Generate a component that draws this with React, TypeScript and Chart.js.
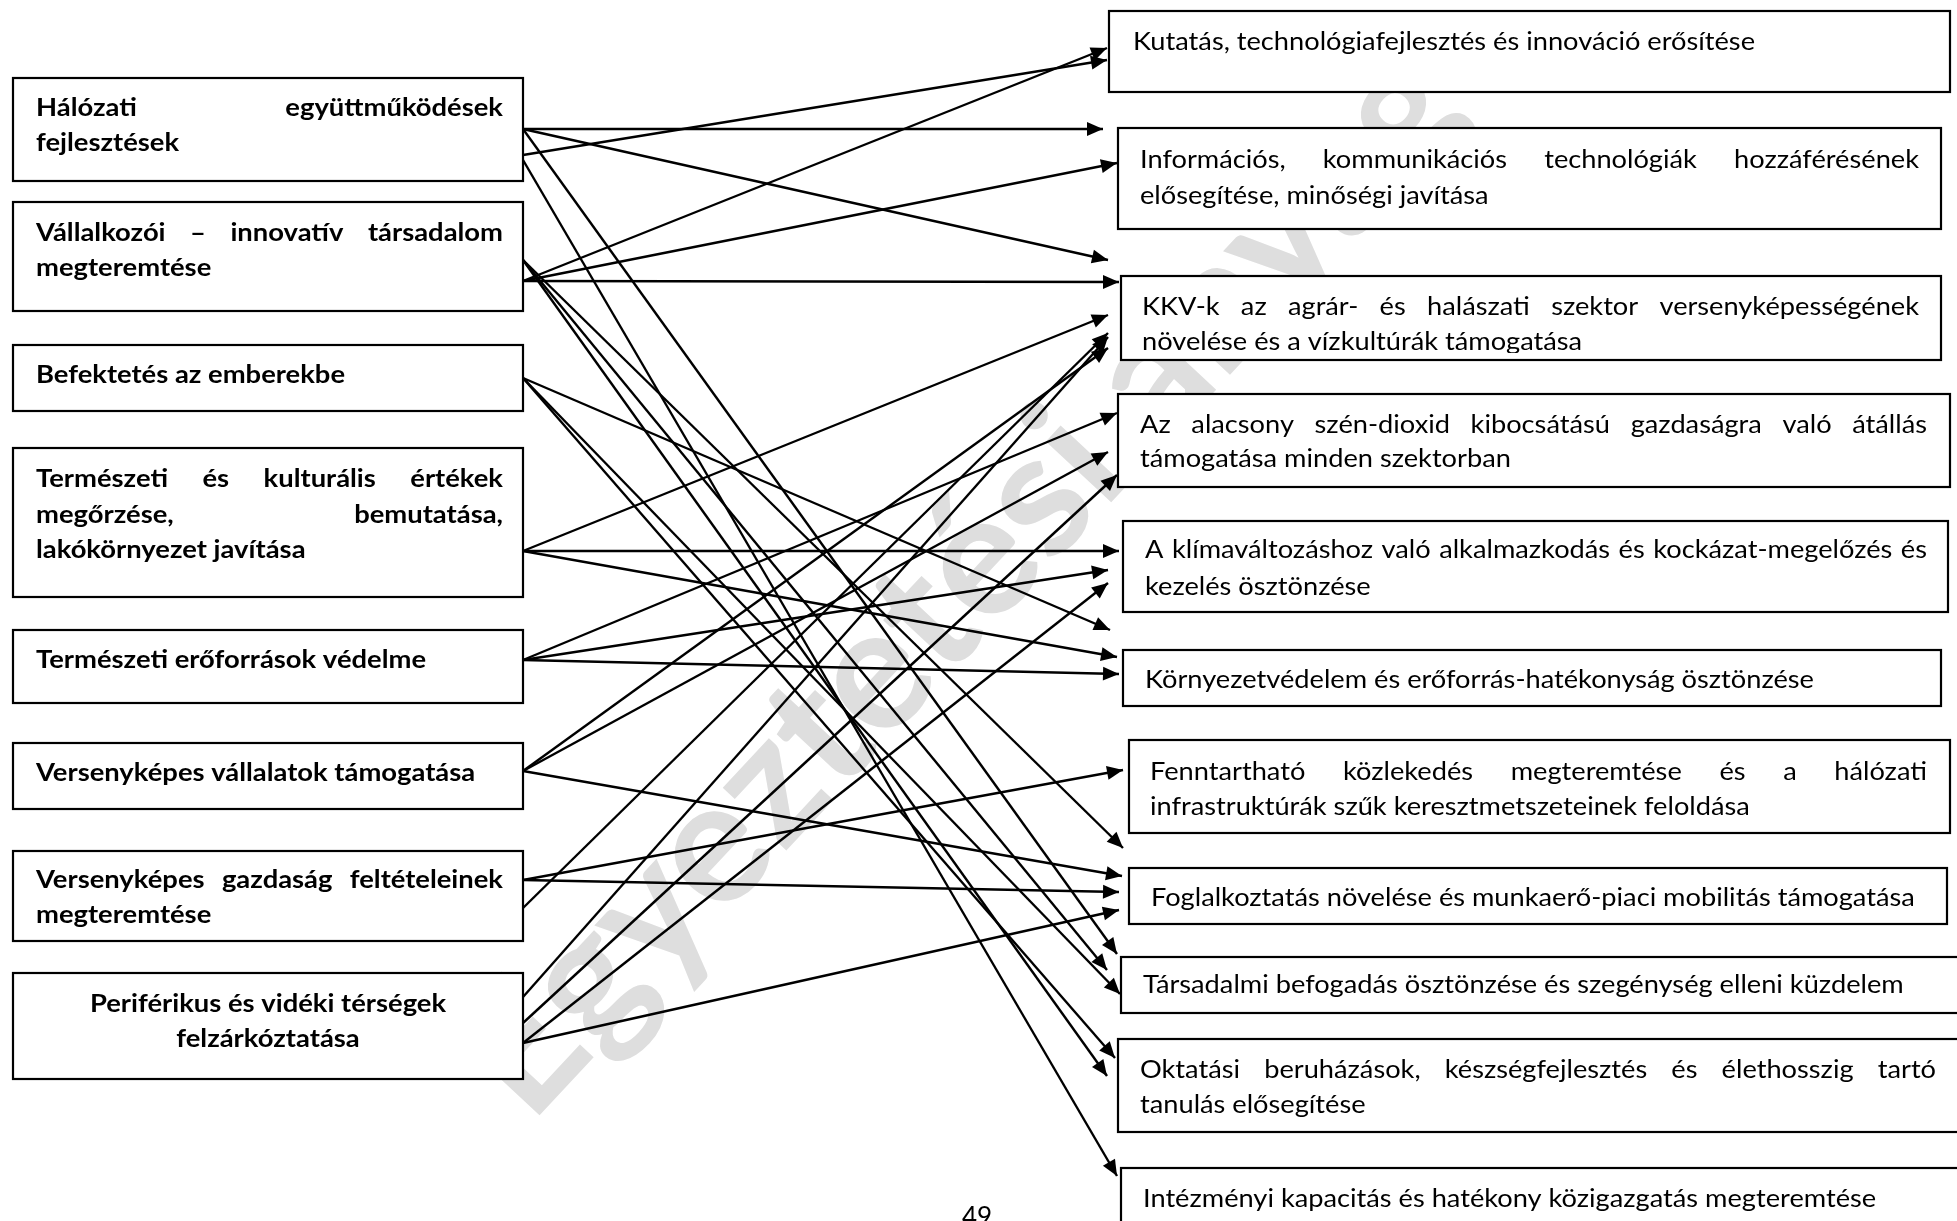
import React, { useEffect, useRef } from "react";
import { Chart, registerables } from "chart.js";

Chart.register(...registerables);

// ---------- text content ----------
const LEFT_LINES: string[][] = [
  ["Hálózati együttműködések", "fejlesztések"],
  ["Vállalkozói – innovatív társadalom", "megteremtése"],
  ["Befektetés az emberekbe"],
  ["Természeti és kulturális értékek", "megőrzése, bemutatása,", "lakókörnyezet javítása"],
  ["Természeti erőforrások védelme"],
  ["Versenyképes vállalatok támogatása"],
  ["Versenyképes gazdaság feltételeinek", "megteremtése"],
  ["Periférikus és vidéki térségek", "felzárkóztatása"],
];

const RIGHT_LINES: string[][] = [
  ["Kutatás, technológiafejlesztés és innováció erősítése"],
  ["Információs, kommunikációs technológiák hozzáférésének", "elősegítése, minőségi javítása"],
  ["KKV-k az agrár- és halászati szektor versenyképességének", "növelése és a vízkultúrák támogatása"],
  ["Az alacsony szén-dioxid kibocsátású gazdaságra való átállás", "támogatása minden szektorban"],
  ["A klímaváltozáshoz való alkalmazkodás és kockázat-megelőzés és", "kezelés ösztönzése"],
  ["Környezetvédelem és erőforrás-hatékonyság ösztönzése"],
  ["Fenntartható közlekedés megteremtése és a hálózati", "infrastruktúrák szűk keresztmetszeteinek feloldása"],
  ["Foglalkoztatás növelése és munkaerő-piaci mobilitás támogatása"],
  ["Társadalmi befogadás ösztönzése és szegénység elleni küzdelem"],
  ["Oktatási beruházások, készségfejlesztés és élethosszig tartó", "tanulás elősegítése"],
  ["Intézményi kapacitás és hatékony közigazgatás megteremtése"],
];

const WATERMARK = "Egyeztetési anyag";
const PAGE_NUMBER = "49";

// ---------- links: [left priority index, right objective index] ----------
const LINKS: [number, number][] = [
  [0, 1], [0, 2], [0, 8], [0, 0], [0, 10],
  [1, 0], [1, 1], [1, 2], [1, 7], [1, 8], [1, 9],
  [2, 5], [2, 8], [2, 9],
  [3, 2], [3, 4], [3, 5],
  [4, 3], [4, 4], [4, 5],
  [5, 3], [5, 2], [5, 7],
  [6, 6], [6, 7], [6, 2],
  [7, 2], [7, 3], [7, 4], [7, 7],
];

// ---------- layout (page pixel space) ----------
const LEFT_BOX_TOP = [78, 202, 345, 448, 630, 743, 851, 973];
const LEFT_BOX_BOTTOM = [181, 311, 411, 597, 703, 809, 941, 1079];
const LEFT_BOX_X = [13, 523];
const LEFT_TEXT_X = [36, 503];
const LEFT_BASELINES = [
  [116, 151], [241, 276], [383], [487, 523, 558], [668], [781], [888, 923], [1012, 1047],
];
const LEFT_JUSTIFY = [[true, false], [true, false], [false], [true, true, false], [false], [false], [true, false], [false, false]];
const LEFT_CENTER = [false, false, false, false, false, false, false, true];

const RIGHT_BOX_LEFT = [1109, 1118, 1121, 1118, 1123, 1123, 1129, 1129, 1121, 1118, 1121];
const RIGHT_BOX_RIGHT = [1950, 1941, 1941, 1950, 1948, 1941, 1950, 1947, 1962, 1962, 1962];
const RIGHT_BOX_TOP = [11, 128, 276, 394, 521, 650, 740, 868, 957, 1039, 1168];
const RIGHT_BOX_BOTTOM = [92, 229, 360, 487, 612, 706, 833, 924, 1013, 1132, 1240];
const RIGHT_TEXT_X = [1133, 1140, 1142, 1140, 1145, 1145, 1150, 1151, 1143, 1140, 1143];
const RIGHT_TEXT_RIGHT = [0, 1919, 1919, 1927, 1927, 0, 1927, 0, 0, 1936, 0];
const RIGHT_BASELINES = [
  [50], [168, 204], [315, 350], [433, 467], [558, 595], [688], [780, 815], [906], [993], [1078, 1113], [1207],
];

const LINK_SRC_Y = [
  129, 129, 129, 155, 160,
  281, 281, 281, 260, 260, 260,
  378, 378, 378,
  551, 551, 551,
  660, 660, 660,
  771, 771, 771,
  880, 880, 908,
  997, 1023, 1043, 1043,
];
const LINK_TIP_X = [
  1103, 1108, 1117, 1107, 1117,
  1107, 1117, 1119, 1123, 1107, 1107,
  1110, 1120, 1115,
  1108, 1119, 1117,
  1117, 1108, 1119,
  1108, 1108, 1122,
  1123, 1119, 1108,
  1108, 1117, 1108, 1119,
];
const LINK_TIP_Y = [
  129, 260, 954, 60, 1176,
  48, 163, 282, 848, 970, 1076,
  630, 994, 1058,
  315, 551, 657,
  413, 570, 674,
  452, 348, 876,
  770, 892, 333,
  337, 475, 583, 910,
];

const W = 1957;
const H = 1221;
const FONT = "Lato, 'Open Sans', 'Noto Sans', sans-serif";

function drawLine(ctx: CanvasRenderingContext2D, text: string, x: number, y: number, sx: number, justify: number, align: CanvasTextAlign) {
  ctx.save();
  ctx.translate(x, y);
  ctx.scale(sx, 1);
  if (justify > 0) {
    const words = text.split(" ");
    const ws = words.map((w) => ctx.measureText(w).width);
    const total = ws.reduce((a, b) => a + b, 0);
    const avail = justify / sx;
    const gap = words.length > 1 ? (avail - total) / (words.length - 1) : 0;
    let cx = 0;
    ctx.textAlign = "left";
    words.forEach((w, i) => {
      ctx.fillText(w, cx, 0);
      cx += ws[i] + gap;
    });
  } else {
    ctx.textAlign = align;
    ctx.fillText(text, 0, 0);
  }
  ctx.restore();
}

const diagramPlugin = {
  id: "diagram",
  beforeDatasetsDraw(chart: any) {
    const ctx: CanvasRenderingContext2D = chart.ctx;
    const xs = chart.scales.x;
    const ys = chart.scales.y;
    const X = (v: number) => xs.getPixelForValue(v);
    const Y = (v: number) => ys.getPixelForValue(v);

    ctx.save();
    ctx.fillStyle = "#ffffff";
    ctx.fillRect(0, 0, chart.width, chart.height);

    // watermark
    ctx.save();
    ctx.translate(X(960), Y(582));
    ctx.rotate((-47 * Math.PI) / 180);
    ctx.font = `bold 174px ${FONT}`;
    ctx.fillStyle = "#dedede";
    ctx.textAlign = "center";
    ctx.textBaseline = "middle";
    ctx.fillText(WATERMARK, 0, 0);
    ctx.restore();

    ctx.textBaseline = "alphabetic";
    ctx.fillStyle = "#000";

    // calibrate widths to reference
    ctx.font = `bold 24px ${FONT}`;
    let sxL = 309 / ctx.measureText("Befektetés az emberekbe").width;
    sxL = Math.max(0.8, Math.min(1.2, sxL));
    ctx.font = `25px ${FONT}`;
    let sxR = 622 / ctx.measureText("Kutatás, technológiafejlesztés és innováció erősítése").width;
    sxR = Math.max(0.8, Math.min(1.2, sxR));

    // left boxes
    LEFT_LINES.forEach((lines, i) => {
      const x0 = X(LEFT_BOX_X[0]);
      const x1 = X(LEFT_BOX_X[1]);
      const y0 = Y(LEFT_BOX_TOP[i]);
      const y1 = Y(LEFT_BOX_BOTTOM[i]);
      ctx.fillStyle = "#fff";
      ctx.fillRect(x0, y0, x1 - x0, y1 - y0);
      ctx.strokeStyle = "#000";
      ctx.lineWidth = 2.2;
      ctx.strokeRect(x0, y0, x1 - x0, y1 - y0);
      ctx.fillStyle = "#000";
      ctx.font = `bold 24px ${FONT}`;
      const tx0 = X(LEFT_TEXT_X[0]);
      const tx1 = X(LEFT_TEXT_X[1]);
      lines.forEach((ln, j) => {
        const by = Y(LEFT_BASELINES[i][j]);
        if (LEFT_CENTER[i]) {
          drawLine(ctx, ln, (x0 + x1) / 2, by, sxL, 0, "center");
        } else {
          drawLine(ctx, ln, tx0, by, sxL, LEFT_JUSTIFY[i][j] ? tx1 - tx0 : 0, "left");
        }
      });
    });

    // right boxes
    RIGHT_LINES.forEach((lines, i) => {
      const x0 = X(RIGHT_BOX_LEFT[i]);
      const x1 = X(RIGHT_BOX_RIGHT[i]);
      const y0 = Y(RIGHT_BOX_TOP[i]);
      const y1 = Y(RIGHT_BOX_BOTTOM[i]);
      ctx.fillStyle = "#fff";
      ctx.fillRect(x0, y0, x1 - x0, y1 - y0);
      ctx.strokeStyle = "#000";
      ctx.lineWidth = 2.2;
      ctx.strokeRect(x0, y0, x1 - x0, y1 - y0);
      ctx.save();
      ctx.beginPath();
      ctx.rect(x0 + 2, y0 + 2, x1 - x0 - 4, y1 - y0 - 9);
      ctx.clip();
      ctx.fillStyle = "#000";
      ctx.font = `25px ${FONT}`;
      const tx0 = X(RIGHT_TEXT_X[i]);
      lines.forEach((ln, j) => {
        const by = Y(RIGHT_BASELINES[i][j]);
        const just = j === 0 && RIGHT_TEXT_RIGHT[i] > 0 && lines.length > 1 ? X(RIGHT_TEXT_RIGHT[i]) - tx0 : 0;
        drawLine(ctx, ln, tx0, by, sxR, just, "left");
      });
      ctx.restore();
    });

    // page number
    ctx.fillStyle = "#000";
    ctx.font = `26px ${FONT}`;
    ctx.textAlign = "center";
    ctx.fillText(PAGE_NUMBER, X(977), Y(1226));
    ctx.restore();
  },
  afterDatasetsDraw(chart: any) {
    const ctx: CanvasRenderingContext2D = chart.ctx;
    ctx.save();
    ctx.fillStyle = "#000";
    chart.data.datasets.forEach((ds: any, i: number) => {
      const meta = chart.getDatasetMeta(i);
      const p0 = meta.data[0];
      const p1 = meta.data[1];
      if (!p0 || !p1) return;
      const ang = Math.atan2(p1.y - p0.y, p1.x - p0.x);
      const L = 16;
      const hw = 7;
      const bx = p1.x - L * Math.cos(ang);
      const by = p1.y - L * Math.sin(ang);
      ctx.beginPath();
      ctx.moveTo(p1.x, p1.y);
      ctx.lineTo(bx + hw * Math.sin(ang), by - hw * Math.cos(ang));
      ctx.lineTo(bx - hw * Math.sin(ang), by + hw * Math.cos(ang));
      ctx.closePath();
      ctx.fill();
    });
    ctx.restore();
  },
};

export default function App() {
  const ref = useRef<HTMLCanvasElement | null>(null);

  useEffect(() => {
    document.body.style.margin = "0";
    document.body.style.overflow = "hidden";
    const canvas = ref.current;
    if (!canvas) return;
    const datasets = LINKS.map((lk, i) => ({
      label: `${LEFT_LINES[lk[0]].join(" ")} → ${RIGHT_LINES[lk[1]].join(" ")}`,
      data: [
        { x: LEFT_BOX_X[1], y: LINK_SRC_Y[i] },
        { x: LINK_TIP_X[i], y: LINK_TIP_Y[i] },
      ],
      showLine: true,
      borderColor: "#000",
      backgroundColor: "#000",
      borderWidth: 2.4,
      pointRadius: 0,
      pointHoverRadius: 0,
      tension: 0,
      fill: false,
    }));
    const chart = new Chart(canvas, {
      type: "scatter",
      data: { datasets },
      options: {
        animation: false,
        responsive: false,
        maintainAspectRatio: false,
        devicePixelRatio: 1,
        events: [],
        layout: { padding: 0 },
        scales: {
          x: { type: "linear", min: 0, max: W, display: false },
          y: { type: "linear", min: 0, max: H, reverse: true, display: false },
        },
        plugins: {
          legend: { display: false },
          tooltip: { enabled: false },
        },
      },
      plugins: [diagramPlugin],
    } as any);
    return () => chart.destroy();
  }, []);

  return (
    <canvas
      ref={ref}
      width={W}
      height={H}
      style={{ display: "block", width: W, height: H }}
    />
  );
}
